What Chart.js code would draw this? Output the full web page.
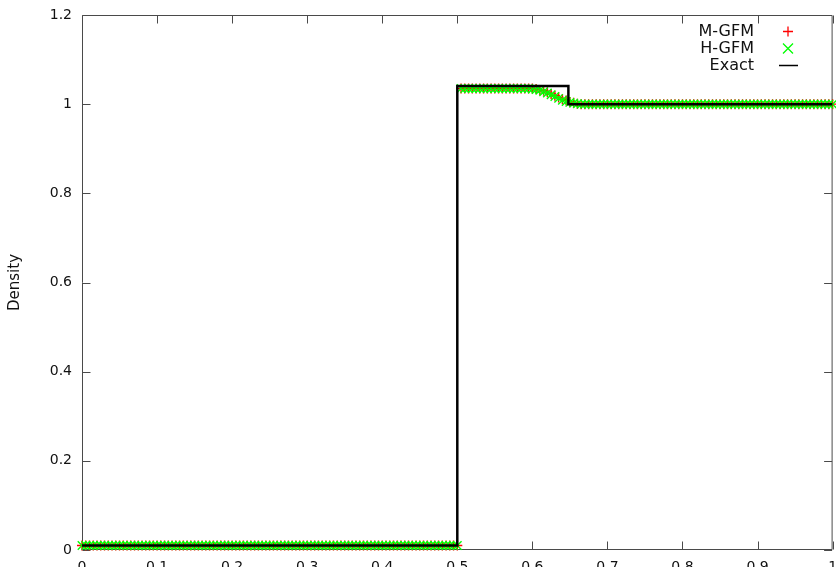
<!DOCTYPE html>
<html>
<head>
    <title>Density</title>
    <style>
        body {
            margin: 0;
            overflow: hidden;
            background: #fff;
        }
        #chart-container {
            width: 840px;
            height: 582px;
        }
    </style>
</head>
<body>
    <script src="https://cdn.jsdelivr.net/npm/chart.js"></script>
    <div id="chart-container">
        <canvas id="densityChart"></canvas>
    </div>

    <script>
        // grid positions of the numerical solution
        const xs = [
            0, 0.005, 0.01, 0.015, 0.02, 0.025, 0.03, 0.035, 0.04, 0.045,
            0.05, 0.055, 0.06, 0.065, 0.07, 0.075, 0.08, 0.085, 0.09, 0.095,
            0.1, 0.105, 0.11, 0.115, 0.12, 0.125, 0.13, 0.135, 0.14, 0.145,
            0.15, 0.155, 0.16, 0.165, 0.17, 0.175, 0.18, 0.185, 0.19, 0.195,
            0.2, 0.205, 0.21, 0.215, 0.22, 0.225, 0.23, 0.235, 0.24, 0.245,
            0.25, 0.255, 0.26, 0.265, 0.27, 0.275, 0.28, 0.285, 0.29, 0.295,
            0.3, 0.305, 0.31, 0.315, 0.32, 0.325, 0.33, 0.335, 0.34, 0.345,
            0.35, 0.355, 0.36, 0.365, 0.37, 0.375, 0.38, 0.385, 0.39, 0.395,
            0.4, 0.405, 0.41, 0.415, 0.42, 0.425, 0.43, 0.435, 0.44, 0.445,
            0.45, 0.455, 0.46, 0.465, 0.47, 0.475, 0.48, 0.485, 0.49, 0.495,
            0.5, 0.505, 0.51, 0.515, 0.52, 0.525, 0.53, 0.535, 0.54, 0.545,
            0.55, 0.555, 0.56, 0.565, 0.57, 0.575, 0.58, 0.585, 0.59, 0.595,
            0.6, 0.605, 0.61, 0.615, 0.62, 0.625, 0.63, 0.635, 0.64, 0.645,
            0.65, 0.655, 0.66, 0.665, 0.67, 0.675, 0.68, 0.685, 0.69, 0.695,
            0.7, 0.705, 0.71, 0.715, 0.72, 0.725, 0.73, 0.735, 0.74, 0.745,
            0.75, 0.755, 0.76, 0.765, 0.77, 0.775, 0.78, 0.785, 0.79, 0.795,
            0.8, 0.805, 0.81, 0.815, 0.82, 0.825, 0.83, 0.835, 0.84, 0.845,
            0.85, 0.855, 0.86, 0.865, 0.87, 0.875, 0.88, 0.885, 0.89, 0.895,
            0.9, 0.905, 0.91, 0.915, 0.92, 0.925, 0.93, 0.935, 0.94, 0.945,
            0.95, 0.955, 0.96, 0.965, 0.97, 0.975, 0.98, 0.985, 0.99, 0.995,
            1
        ];

        const mgfm = [
            0.01, 0.01, 0.01, 0.01, 0.01, 0.01, 0.01, 0.01, 0.01, 0.01,
            0.01, 0.01, 0.01, 0.01, 0.01, 0.01, 0.01, 0.01, 0.01, 0.01,
            0.01, 0.01, 0.01, 0.01, 0.01, 0.01, 0.01, 0.01, 0.01, 0.01,
            0.01, 0.01, 0.01, 0.01, 0.01, 0.01, 0.01, 0.01, 0.01, 0.01,
            0.01, 0.01, 0.01, 0.01, 0.01, 0.01, 0.01, 0.01, 0.01, 0.01,
            0.01, 0.01, 0.01, 0.01, 0.01, 0.01, 0.01, 0.01, 0.01, 0.01,
            0.01, 0.01, 0.01, 0.01, 0.01, 0.01, 0.01, 0.01, 0.01, 0.01,
            0.01, 0.01, 0.01, 0.01, 0.01, 0.01, 0.01, 0.01, 0.01, 0.01,
            0.01, 0.01, 0.01, 0.01, 0.01, 0.01, 0.01, 0.01, 0.01, 0.01,
            0.01, 0.01, 0.01, 0.01, 0.01, 0.01, 0.01, 0.01, 0.01, 0.01,
            0.01, 1.035, 1.035, 1.035, 1.035, 1.035, 1.035, 1.035, 1.035, 1.035,
            1.035, 1.035, 1.035, 1.035, 1.035, 1.035, 1.035, 1.035, 1.035, 1.035,
            1.035, 1.034, 1.032, 1.030, 1.027, 1.023, 1.019, 1.015, 1.011, 1.008,
            1.005, 1.003, 1.001, 1.0, 1.0, 1.0, 1.0, 1.0, 1.0, 1.0,
            1.0, 1.0, 1.0, 1.0, 1.0, 1.0, 1.0, 1.0, 1.0, 1.0,
            1.0, 1.0, 1.0, 1.0, 1.0, 1.0, 1.0, 1.0, 1.0, 1.0,
            1.0, 1.0, 1.0, 1.0, 1.0, 1.0, 1.0, 1.0, 1.0, 1.0,
            1.0, 1.0, 1.0, 1.0, 1.0, 1.0, 1.0, 1.0, 1.0, 1.0,
            1.0, 1.0, 1.0, 1.0, 1.0, 1.0, 1.0, 1.0, 1.0, 1.0,
            1.0, 1.0, 1.0, 1.0, 1.0, 1.0, 1.0, 1.0, 1.0, 1.0,
            1.0
        ];

        const hgfm = [
            0.01, 0.01, 0.01, 0.01, 0.01, 0.01, 0.01, 0.01, 0.01, 0.01,
            0.01, 0.01, 0.01, 0.01, 0.01, 0.01, 0.01, 0.01, 0.01, 0.01,
            0.01, 0.01, 0.01, 0.01, 0.01, 0.01, 0.01, 0.01, 0.01, 0.01,
            0.01, 0.01, 0.01, 0.01, 0.01, 0.01, 0.01, 0.01, 0.01, 0.01,
            0.01, 0.01, 0.01, 0.01, 0.01, 0.01, 0.01, 0.01, 0.01, 0.01,
            0.01, 0.01, 0.01, 0.01, 0.01, 0.01, 0.01, 0.01, 0.01, 0.01,
            0.01, 0.01, 0.01, 0.01, 0.01, 0.01, 0.01, 0.01, 0.01, 0.01,
            0.01, 0.01, 0.01, 0.01, 0.01, 0.01, 0.01, 0.01, 0.01, 0.01,
            0.01, 0.01, 0.01, 0.01, 0.01, 0.01, 0.01, 0.01, 0.01, 0.01,
            0.01, 0.01, 0.01, 0.01, 0.01, 0.01, 0.01, 0.01, 0.01, 0.01,
            0.01, 1.035, 1.035, 1.035, 1.035, 1.035, 1.035, 1.035, 1.035, 1.035,
            1.035, 1.035, 1.035, 1.035, 1.035, 1.035, 1.035, 1.035, 1.035, 1.035,
            1.034, 1.033, 1.031, 1.028, 1.025, 1.021, 1.017, 1.013, 1.009, 1.006,
            1.004, 1.002, 1.001, 1.0, 1.0, 1.0, 1.0, 1.0, 1.0, 1.0,
            1.0, 1.0, 1.0, 1.0, 1.0, 1.0, 1.0, 1.0, 1.0, 1.0,
            1.0, 1.0, 1.0, 1.0, 1.0, 1.0, 1.0, 1.0, 1.0, 1.0,
            1.0, 1.0, 1.0, 1.0, 1.0, 1.0, 1.0, 1.0, 1.0, 1.0,
            1.0, 1.0, 1.0, 1.0, 1.0, 1.0, 1.0, 1.0, 1.0, 1.0,
            1.0, 1.0, 1.0, 1.0, 1.0, 1.0, 1.0, 1.0, 1.0, 1.0,
            1.0, 1.0, 1.0, 1.0, 1.0, 1.0, 1.0, 1.0, 1.0, 1.0,
            1.0
        ];

        // exact solution corners
        const exactX = [0, 0.5, 0.5, 0.648, 0.648, 1];
        const exactY = [0.01, 0.01, 1.041, 1.041, 1.0, 1.0];

        const FONT = 'DejaVu Sans';

        // gnuplot style box, inward ticks and legend
        const gnuFrame = {
            id: 'gnuFrame',
            beforeDatasetsDraw(chart) {
                const { ctx, chartArea: a, scales } = chart;
                const L = a.left + 0.5, R = a.right - 0.5, T = a.top + 0.5, B = a.bottom - 0.5;
                ctx.save();
                ctx.strokeStyle = '#4a4a4a';
                ctx.lineWidth = 1;
                ctx.beginPath();
                ctx.rect(L, T, R - L, B - T);
                scales.x.ticks.forEach(t => {
                    const px = Math.round(scales.x.getPixelForValue(t.value)) + 0.5;
                    ctx.moveTo(px, B); ctx.lineTo(px, B - 8);
                    ctx.moveTo(px, T); ctx.lineTo(px, T + 8);
                });
                scales.y.ticks.forEach(t => {
                    const py = Math.round(scales.y.getPixelForValue(t.value)) + 0.5;
                    ctx.moveTo(L, py); ctx.lineTo(L + 8, py);
                    ctx.moveTo(R, py); ctx.lineTo(R - 8, py);
                });
                ctx.stroke();
                ctx.restore();
            },
            afterDraw(chart) {
                const ctx = chart.ctx;
                const ds = chart.data.datasets;
                const textRight = 754, sampleX = 788;
                ctx.save();
                ctx.font = '16px ' + FONT;
                ctx.fillStyle = '#111';
                ctx.textAlign = 'right';
                ctx.textBaseline = 'middle';
                ds.forEach((d, i) => {
                    const y = 31.5 + i * 17;
                    ctx.fillText(d.label, textRight, y);
                    ctx.strokeStyle = d.borderColor;
                    ctx.lineWidth = 1.3;
                    ctx.beginPath();
                    if (d.pointStyle === 'cross') {
                        ctx.moveTo(sampleX - 5, y); ctx.lineTo(sampleX + 5, y);
                        ctx.moveTo(sampleX, y - 5); ctx.lineTo(sampleX, y + 5);
                    } else if (d.pointStyle === 'crossRot') {
                        ctx.moveTo(sampleX - 5, y - 5); ctx.lineTo(sampleX + 5, y + 5);
                        ctx.moveTo(sampleX - 5, y + 5); ctx.lineTo(sampleX + 5, y - 5);
                    } else {
                        ctx.lineWidth = 1.5;
                        ctx.moveTo(sampleX - 9, y); ctx.lineTo(sampleX + 10, y);
                    }
                    ctx.stroke();
                });
                ctx.restore();
            }
        };

        const tickText = v => String(Number(v.toFixed(2)));

        new Chart('densityChart', {
            type: 'line',
            data: {
                datasets: [{
                    label: 'M-GFM',
                    data: xs.map((x, i) => ({ x: x, y: mgfm[i] })),
                    showLine: false,
                    pointStyle: 'cross',
                    pointRadius: 5,
                    pointBorderWidth: 1.4,
                    borderColor: '#ff0000',
                    backgroundColor: '#ff0000',
                    clip: false,
                    order: 3
                }, {
                    label: 'H-GFM',
                    data: xs.map((x, i) => ({ x: x, y: hgfm[i] })),
                    showLine: false,
                    pointStyle: 'crossRot',
                    pointRadius: 6,
                    pointBorderWidth: 1.4,
                    borderColor: '#00ff00',
                    backgroundColor: '#00ff00',
                    clip: false,
                    order: 2
                }, {
                    label: 'Exact',
                    data: exactX.map((x, i) => ({ x: x, y: exactY[i] })),
                    borderColor: '#000000',
                    borderWidth: 2.5,
                    pointRadius: 0,
                    tension: 0,
                    order: 1
                }]
            },
            options: {
                responsive: true,
                maintainAspectRatio: false,
                animation: false,
                layout: { padding: { top: 15, right: 0, left: 0, bottom: 0 } },
                plugins: {
                    legend: { display: false },
                    tooltip: { enabled: false }
                },
                scales: {
                    x: {
                        type: 'linear',
                        min: 0,
                        max: 1,
                        grid: { display: false, drawTicks: false },
                        border: { display: false },
                        ticks: { stepSize: 0.1, padding: 9, color: '#111', font: { family: FONT, size: 14 }, callback: tickText },
                        afterFit: s => { s.height = 32; s.paddingLeft = 0; s.paddingRight = 0; }
                    },
                    y: {
                        min: 0,
                        max: 1.2,
                        grid: { display: false, drawTicks: false },
                        border: { display: false },
                        ticks: { stepSize: 0.2, padding: 10, color: '#111', font: { family: FONT, size: 14 }, callback: tickText },
                        title: {
                            display: true,
                            text: 'Density',
                            color: '#111',
                            font: { family: FONT, size: 15 },
                            padding: { top: 6, bottom: 0 }
                        },
                        afterFit: s => { s.width = 82; s.paddingTop = 0; s.paddingBottom = 0; }
                    }
                }
            },
            plugins: [gnuFrame]
        });
    </script>
</body>
</html>
